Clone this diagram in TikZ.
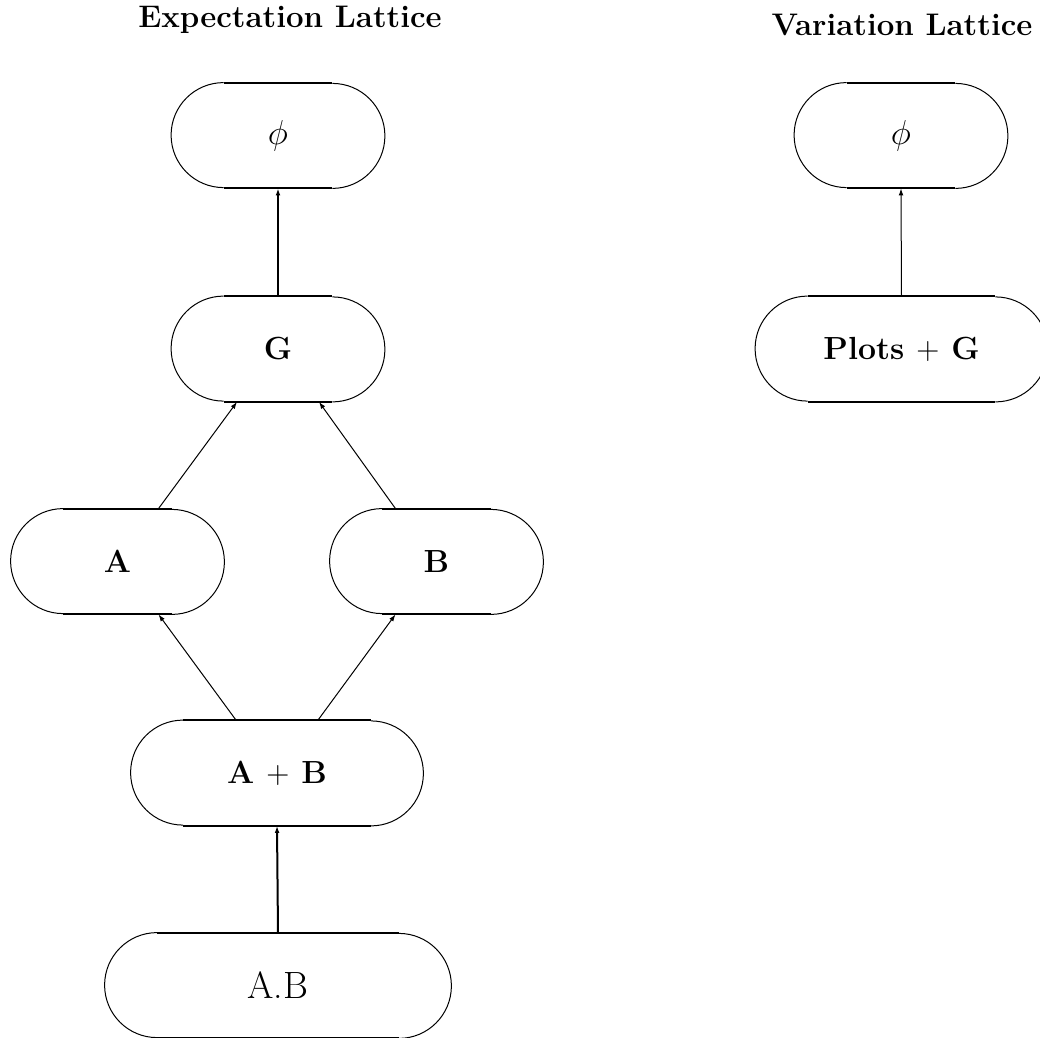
\documentclass[tikz,border=0pt]{standalone}
\usetikzlibrary{arrows.meta}
\begin{document}
\begin{tikzpicture}[x=0.5pt,y=0.5pt,
  lattice/.style={rectangle, draw=none, inner sep=0pt, minimum height=52.5pt,
    minimum width=#1, font=\fontsize{16}{19}\selectfont\bfseries},
  title/.style={anchor=base, font=\fontsize{15.6}{18}\selectfont\bfseries},
  edge/.style={line width=0.95pt},
  arc/.style={line width=0.5pt},
  link/.style={line width=0.5pt, -{Latex[length=3.5pt,width=2.4pt]}},
  strong/.style={line width=1pt, -{Latex[length=3.5pt,width=2.4pt]}}]
  \useasboundingbox (0,0) rectangle (1040,-1038);

  % titles
  \node[title] (t1) at (290,-28) {Expectation Lattice};
  \node[title] (t2) at (902,-36) {Variation Lattice};

  % expectation lattice
  \node[lattice=54pt,font=\fontsize{19}{22}\selectfont] (phi) at (278,-135.5) {$\phi$};
  \node[lattice=54pt]   (G)   at (278,-349)   {G};
  \node[lattice=54pt]   (A)   at (117.5,-561.5) {A};
  \node[lattice=54pt]   (B)   at (436.5,-561.5) {B};
  \node[lattice=93.5pt] (AB)  at (277,-773)   {A {\mdseries+} B};
  \node[lattice=120.5pt,font=\fontsize{19}{22}\selectfont] (AdB) at (278,-985.5) {A.B};

  % variation lattice
  \node[lattice=54pt,font=\fontsize{19}{22}\selectfont] (vphi) at (901,-135.5) {$\phi$};
  \node[lattice=93.5pt] (PG)   at (901.5,-349) {Plots {\mdseries+} G};

  % stadium outlines: heavy flat edges, light round ends
  \foreach \n in {phi,G,A,B,AB,AdB,vphi,PG}{
    \draw[edge] (\n.north west) -- (\n.north east);
    \draw[edge] (\n.south west) -- (\n.south east);
    \draw[arc] (\n.north west) arc[start angle=90,end angle=270,radius=26.25pt];
    \draw[arc] (\n.south east) arc[start angle=-90,end angle=90,radius=26.25pt];
  }

  % connectors
  \draw[strong] (G.north) -- (phi.south);
  \draw[link] ([xshift=20.5pt]A.north) -- ([xshift=-20.5pt]G.south);
  \draw[link] ([xshift=-20.5pt]B.north) -- ([xshift=20.5pt]G.south);
  \draw[link] ([xshift=-20.5pt]AB.north) -- ([xshift=20.5pt]A.south);
  \draw[link] ([xshift=20.5pt]AB.north) -- ([xshift=-20.5pt]B.south);
  \draw[strong] (AdB.north) -- (AB.south);
  \draw[link] (PG.north) -- (vphi.south);
\end{tikzpicture}
\end{document}
